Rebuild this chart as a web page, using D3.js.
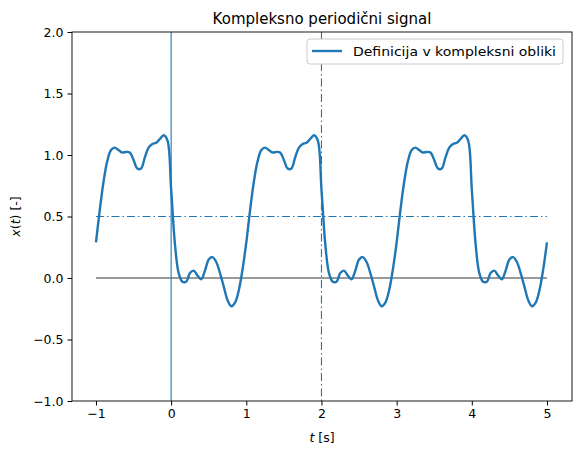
<!DOCTYPE html><html><head><meta charset="utf-8"><script src="https://cdn.jsdelivr.net/npm/d3@7"></script>
<style>body{margin:0;background:#fff}text{font-family:"DejaVu Sans",sans-serif}</style></head><body><svg id="c" width="579" height="455"></svg><script>
const xValues = [
0.29,0.55,0.78,0.95,1.04,1.06,1.04,1.02,1.025,1.02,0.96,0.89,0.89,0.98,1.06,1.09,1.10,1.13,1.16,1.12,
0.72,0.28,0.04,-0.03,-0.03,0.04,0.06,0.02,-0.01,0.06,0.15,0.17,0.13,0.04,-0.07,-0.18,-0.23,-0.20,-0.10,0.07,
0.29,0.55,0.78,0.95,1.04,1.06,1.04,1.02,1.025,1.02,0.96,0.89,0.89,0.98,1.06,1.09,1.10,1.13,1.16,1.12,
0.72,0.28,0.04,-0.03,-0.03,0.04,0.06,0.02,-0.01,0.06,0.15,0.17,0.13,0.04,-0.07,-0.18,-0.23,-0.20,-0.10,0.07,
0.29,0.55,0.78,0.95,1.04,1.06,1.04,1.02,1.025,1.02,0.96,0.89,0.89,0.98,1.06,1.09,1.10,1.13,1.16,1.12,
0.72,0.28,0.04,-0.03,-0.03,0.04,0.06,0.02,-0.01,0.06,0.15,0.17,0.13,0.04,-0.07,-0.18,-0.23,-0.20,-0.10,0.07,
0.29];
const tValues = d3.range(xValues.length).map(i => -1 + i*0.05);
const xTicks = [-1,0,1,2,3,4,5];
const yTicks = [-1,-0.5,0,0.5,1,1.5,2];
const title = "Kompleksno periodični signal";
const legendLabel = "Definicija v kompleksni obliki";
const C = "#1f77b4";
const svg = d3.select("#c");
const L=72,R=572,T=32,B=401;
const x = d3.scaleLinear().domain([-1.319,5.333]).range([L,R]);
const y = d3.scaleLinear().domain([-1,2]).range([B,T]);
svg.append("g").attr("transform",`translate(0,${B})`).call(d3.axisBottom(x).tickValues(xTicks).tickSize(4.5).tickPadding(4).tickFormat(d=>d<0?"\u2212"+(-d):d))
 .call(g=>{g.select(".domain").remove();g.selectAll("text").attr("font-size",12.5).attr("font-family","DejaVu Sans");});
svg.append("g").attr("transform",`translate(${L},0)`).call(d3.axisLeft(y).tickValues(yTicks).tickSize(4.5).tickPadding(4).tickFormat(d=>(d<0?"\u2212":"")+Math.abs(d).toFixed(1)))
 .call(g=>{g.select(".domain").remove();g.selectAll("text").attr("font-size",12.5).attr("font-family","DejaVu Sans");});
const pl = svg.append("g");
pl.append("line").attr("x1",x(-1)).attr("x2",x(5)).attr("y1",y(0)).attr("y2",y(0)).attr("stroke","#000").attr("stroke-width",0.8);
pl.append("line").attr("x1",x(-1)).attr("x2",x(5)).attr("y1",y(0.5)).attr("y2",y(0.5)).attr("stroke",C).attr("stroke-width",1.1).attr("stroke-dasharray","8,3,1.5,3");
pl.append("line").attr("x1",x(0)).attr("x2",x(0)).attr("y1",T).attr("y2",B).attr("stroke",C).attr("stroke-width",1.1);
pl.append("line").attr("x1",x(2)).attr("x2",x(2)).attr("y1",T).attr("y2",B).attr("stroke",C).attr("stroke-width",1.1).attr("stroke-dasharray","8,3,1.5,3");
const line = d3.line().x((d,i)=>x(tValues[i])).y(d=>y(d)).curve(d3.curveCatmullRom);
pl.append("path").datum(xValues).attr("d",line).attr("fill","none").attr("stroke",C).attr("stroke-width",2.4);
svg.append("rect").attr("x",L).attr("y",T).attr("width",R-L).attr("height",B-T).attr("fill","none").attr("stroke","#000").attr("stroke-width",0.9);
svg.append("text").attr("x",(L+R)/2).attr("y",T-8).attr("text-anchor","middle").attr("font-size",15).text(title);
const xl = svg.append("text").attr("x",(L+R)/2).attr("y",442).attr("text-anchor","middle").attr("font-size",12.5);
xl.append("tspan").attr("font-style","italic").text("t");xl.append("tspan").text(" [s]");
const yl = svg.append("text").attr("transform",`translate(20,${(T+B)/2}) rotate(-90)`).attr("text-anchor","middle").attr("font-size",12.5);
yl.append("tspan").attr("font-style","italic").text("x");yl.append("tspan").text("(");yl.append("tspan").attr("font-style","italic").text("t");yl.append("tspan").text(") [-]");
const lg = svg.append("g");
lg.append("rect").attr("x",307).attr("y",39).attr("width",256).attr("height",25).attr("rx",3).attr("fill","#fff").attr("stroke","#ccc");
lg.append("line").attr("x1",312).attr("x2",342).attr("y1",51).attr("y2",51).attr("stroke",C).attr("stroke-width",2.4);
lg.append("text").attr("x",353).attr("y",56).attr("font-size",12.5).attr("textLength",203).attr("lengthAdjust","spacingAndGlyphs").text(legendLabel);
</script></body></html>
